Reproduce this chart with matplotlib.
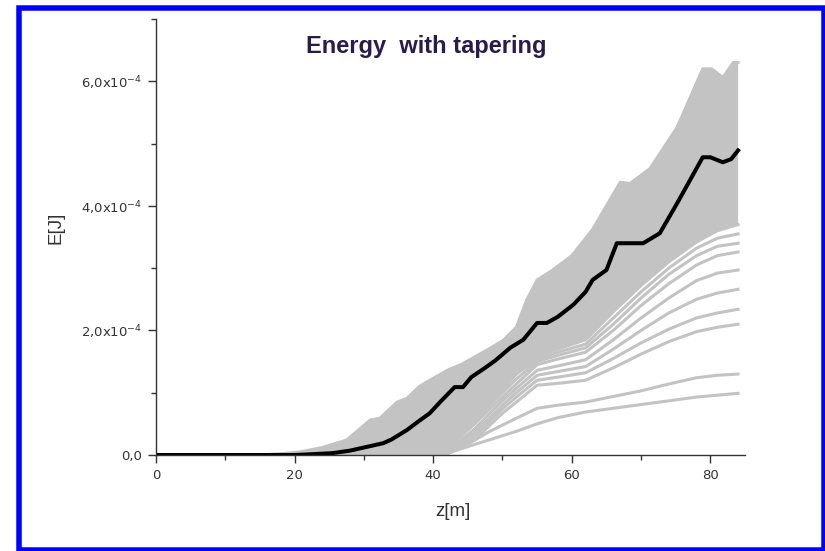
import numpy as np
import matplotlib
matplotlib.use("Agg")
import matplotlib.pyplot as plt
from matplotlib.patches import Rectangle
from matplotlib.ticker import MultipleLocator

SCALE = 1e-4  # energies below are in units of 1e-4 J

# mean pulse energy along the undulator
z_mean = [0, 20, 22, 25.5, 28, 30.4, 32.8, 34, 36.2, 38, 39.5, 41, 43.1, 44.3, 45.5,
          47.5, 49, 51.1, 53, 55, 56.4, 58, 60.2, 62, 63, 65, 66.5, 68, 70.3, 72.7,
          75.2, 77, 78.9, 80, 81.8, 83, 84]
e_mean = [0, 0, 0.01, 0.03, 0.07, 0.13, 0.19, 0.25, 0.40, 0.55, 0.67, 0.85, 1.09, 1.09, 1.25,
          1.40, 1.52, 1.72, 1.85, 2.12, 2.12, 2.22, 2.41, 2.62, 2.81, 2.97, 3.40, 3.40, 3.40, 3.56,
          4.04, 4.40, 4.78, 4.78, 4.70, 4.75, 4.89]

# upper and lower edge of the dense bundle of single shots
z_top = [0, 15, 18, 20.8, 24, 27.5, 29, 30.9, 32.3, 34.8, 36.2, 38, 39.5, 42.4, 44, 47.7,
         50.1, 52, 53.5, 55, 57, 60, 63, 67, 68.4, 71.3, 75.2, 78.9, 80.2, 81.8, 83.3, 84]
e_top = [0, 0, 0.02, 0.05, 0.12, 0.24, 0.38, 0.56, 0.59, 0.85, 0.91, 1.10, 1.20, 1.38, 1.45, 1.68,
         1.84, 2.05, 2.49, 2.81, 2.95, 3.20, 3.62, 4.38, 4.36, 4.60, 5.26, 6.20, 6.20, 6.06, 6.30, 6.30]
z_bottom = [0, 40, 42, 44, 46, 48, 50, 52.5, 55, 58, 62, 66, 70, 74, 78, 81, 84]
e_bottom = [0, 0, 0.15, 0.40, 0.65, 0.87, 1.09, 1.36, 1.58, 1.70, 1.85, 2.30, 2.72, 3.10, 3.42, 3.60, 3.70]

# single shots that stay below the bundle
z_low = [0, 38, 40, 42, 44, 46, 48, 50, 52, 55, 58, 62, 66, 70, 74, 78, 81, 84]
shot_1 = [0, 0, 0, 0.02, 0.10, 0.17, 0.24, 0.31, 0.38, 0.50, 0.60, 0.69, 0.75, 0.81, 0.87, 0.93, 0.96, 0.99]
shot_2 = [0, 0, 0, 0.03, 0.12, 0.24, 0.37, 0.48, 0.59, 0.75, 0.80, 0.85, 0.94, 1.03, 1.14, 1.24, 1.28, 1.30]
shot_3 = [0, 0, 0, 0.02, 0.12, 0.24, 0.46, 0.67, 0.85, 1.12, 1.15, 1.20, 1.40, 1.62, 1.82, 1.98, 2.05, 2.10]
shot_4 = [0, 0, 0, 0.04, 0.16, 0.30, 0.52, 0.74, 0.93, 1.20, 1.25, 1.32, 1.55, 1.80, 2.02, 2.20, 2.28, 2.34]
shot_5 = [0, 0, 0, 0.06, 0.20, 0.36, 0.58, 0.80, 1.00, 1.28, 1.34, 1.42, 1.70, 2.00, 2.28, 2.50, 2.60, 2.66]
shot_6 = [0, 0, 0, 0.08, 0.24, 0.42, 0.65, 0.87, 1.07, 1.36, 1.43, 1.53, 1.85, 2.20, 2.52, 2.80, 2.92, 2.97]
shot_7 = [0, 0, 0, 0.12, 0.30, 0.50, 0.72, 0.93, 1.14, 1.45, 1.54, 1.65, 2.00, 2.40, 2.75, 3.05, 3.20, 3.26]
shot_8 = [0, 0, 0, 0.14, 0.34, 0.55, 0.78, 1.00, 1.22, 1.50, 1.60, 1.72, 2.10, 2.52, 2.90, 3.20, 3.35, 3.40]
shot_9 = [0, 0, 0, 0.15, 0.38, 0.60, 0.83, 1.05, 1.30, 1.54, 1.65, 1.78, 2.20, 2.62, 3.00, 3.32, 3.48, 3.55]
low_shots = [shot_1, shot_2, shot_3, shot_4, shot_5, shot_6, shot_7, shot_8, shot_9]

y_ticks = [0, 2, 4, 6]
y_tick_labels = ["0,0", r"2,0x10$^{-4}$", r"4,0x10$^{-4}$", r"6,0x10$^{-4}$"]
x_ticks = [0, 20, 40, 60, 80]

gray = "#c3c3c3"
text_col = "#333333"

W, H = 825, 551
fig = plt.figure(figsize=(W / 100, H / 100), dpi=100)
ax = fig.add_axes([156 / W, 1 - 455 / H, (745 - 156) / W, (455 - 19) / H])

band_z = np.r_[z_top, z_bottom[::-1]]
band_e = np.r_[e_top, e_bottom[::-1]] * SCALE
ax.fill(band_z, band_e, color=gray, lw=0, zorder=1)
ax.plot(z_top, np.array(e_top) * SCALE, color=gray, lw=2.2, zorder=1)
ax.plot(z_bottom, np.array(e_bottom) * SCALE, color=gray, lw=2.2, zorder=1)
for shot in low_shots:
    ax.plot(z_low, np.array(shot) * SCALE, color=gray, lw=2.2, zorder=2)

ax.plot(z_mean, np.array(e_mean) * SCALE, color="black", lw=2.9, zorder=3,
        solid_joinstyle="round")

ax.set_xlim(0, 85)
ax.set_ylim(0, 7e-4)
ax.set_xticks(x_ticks)
ax.set_xticklabels([str(t) for t in x_ticks])
ax.set_yticks([t * SCALE for t in y_ticks])
ax.set_yticklabels(y_tick_labels)
ax.xaxis.set_minor_locator(MultipleLocator(10))
ax.yaxis.set_minor_locator(MultipleLocator(1e-4))

for side in ["top", "right"]:
    ax.spines[side].set_visible(False)
for side in ["left", "bottom"]:
    ax.spines[side].set_color(text_col)
    ax.spines[side].set_linewidth(1.0)
    ax.spines[side].set_zorder(4)

ax.tick_params(which="major", direction="out", length=6, width=1, color=text_col,
               labelcolor=text_col, labelsize=9.5, pad=4)
ax.tick_params(which="minor", direction="out", length=3.6, width=1, color=text_col)
for lab in ax.get_xticklabels() + ax.get_yticklabels():
    lab.set_family("DejaVu Sans")

fig.text(426 / W, 1 - 47 / H, "Energy  with tapering", ha="center", va="center",
         fontsize=17, fontweight="bold", color="#261d4d", family="Liberation Sans")
fig.text(56 / W, 1 - 228 / H, "E[J]", rotation=90, ha="center", va="center",
         fontsize=13.5, color=text_col, family="Liberation Sans")
fig.text(453 / W, 1 - 512 / H, "z[m]", ha="center", va="center",
         fontsize=13.5, color=text_col, family="Liberation Sans")

# blue frame round the whole slide
fig.add_artist(Rectangle((19 / W, 1 - 549.5 / H), (823.5 - 19) / W, (549.5 - 7.5) / H,
                         transform=fig.transFigure, fill=False, edgecolor="#0000ff",
                         lw=5.5 * 72 / 100))

fig.savefig("out.png", dpi=100)
